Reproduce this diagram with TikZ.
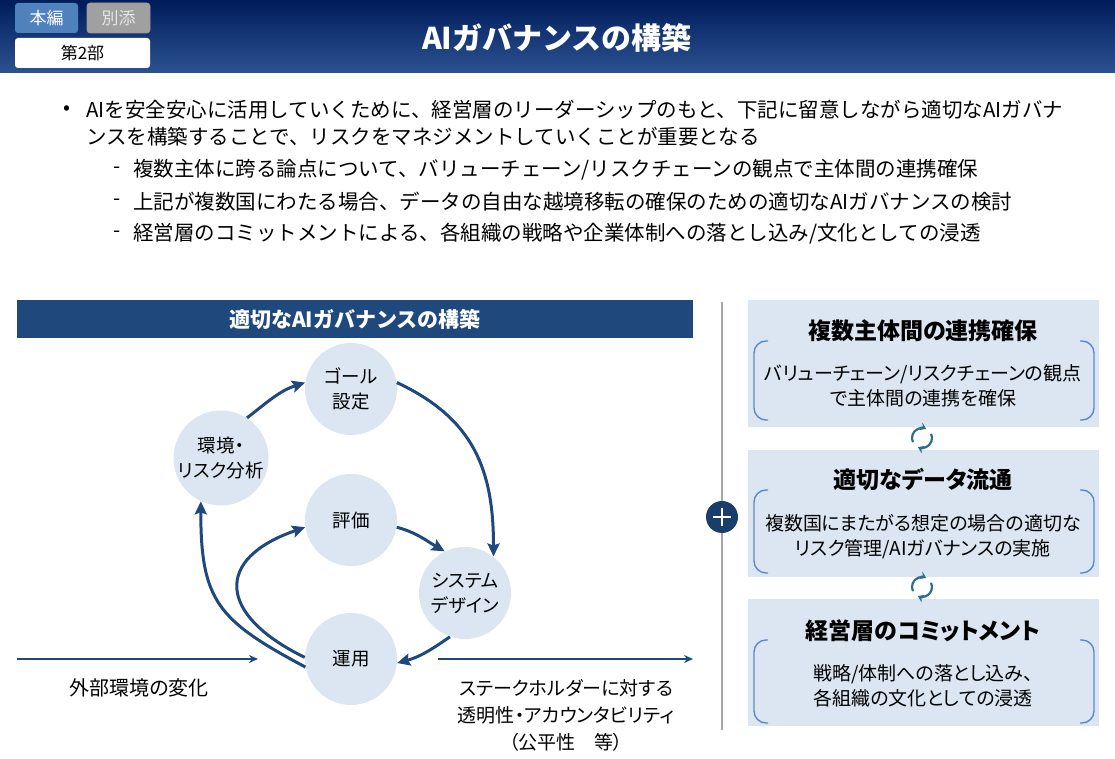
\documentclass[tikz,border=0pt]{standalone}
\usepackage{fontspec}
\setmainfont{Noto Sans CJK JP}
\newfontfamily\kana{Noto Sans CJK JP}[RawFeature=+palt]
\usepackage{tikz}
\usetikzlibrary{arrows,arrows.meta,positioning}

\definecolor{navy}{RGB}{31,73,125}
\definecolor{pale}{RGB}{220,230,242}
\definecolor{brk}{RGB}{91,138,198}
\definecolor{cyc}{RGB}{49,110,140}
\definecolor{hdtop}{RGB}{0,28,90}
\definecolor{hdbot}{RGB}{44,82,146}
\definecolor{tabblue}{RGB}{79,129,189}
\definecolor{tabgray}{RGB}{160,160,160}

\begin{document}
\begin{tikzpicture}[x=1pt,y=1pt,>={Stealth[length=13pt,width=12pt,inset=2pt]},semithick]
\tikzstyle{phase}=[circle,fill=pale,minimum size=92pt,inner sep=0pt,align=center,font=\kana\fontsize{18.5}{25}\selectfont]
\tikzstyle{flow}=[->,draw=navy,line width=3pt]
\tikzstyle{side}=[-{Stealth[length=9pt,width=8pt]},draw=navy,line width=2pt]
\tikzstyle{panel}=[fill=pale,minimum width=351pt,minimum height=127pt]
\tikzstyle{brace}=[draw=brk,line width=1.4pt,rounded corners=12pt]
\tikzstyle{cycarr}=[-{Stealth[length=6pt,width=8pt]},draw=cyc,line width=2.2pt]
\tikzstyle{tab}=[rounded corners=3pt,minimum height=30pt,font=\fontsize{17}{17}\selectfont]
\tikzstyle{ptitle}=[font=\kana\bfseries\fontsize{23}{23}\selectfont]
\tikzstyle{pbody}=[align=center,font=\kana\fontsize{19}{25}\selectfont]
\tikzstyle{bul}=[anchor=west,inner sep=0pt,font=\fontsize{20.5}{20.5}\selectfont]
\useasboundingbox (0,0) rectangle (1115,759);
% header
\shade[top color=hdtop,middle color=hdtop!80!hdbot,bottom color=hdbot] (0,686) rectangle (1115,759);
\node[white,font=\bfseries\fontsize{30}{30}\selectfont] (title) at (557,721) {AIガバナンスの構築};
\node[tab,fill=tabblue,text=white,minimum width=63pt] (main) at (46.5,741) {本編};
\node[tab,fill=tabgray,draw=gray!80,text=white!90!black,minimum width=63pt] (annex) at (118.5,741) {別添};
\node[tab,fill=white,minimum width=135pt] (part) at (82.5,706) {第2部};
% bullets
\node[bul] (b0) at (63,649) {•};
\node[bul] (b1) at (86,649) {AIを安全安心に活用していくために、経営層のリーダーシップのもと、下記に留意しながら適切なAIガバナ};
\node[bul] (b2) at (86,622) {ンスを構築することで、リスクをマネジメントしていくことが重要となる};
\node[bul] (d1) at (113,589) {-};
\node[bul] (s1) at (133,589) {複数主体に跨る論点について、バリューチェーン/リスクチェーンの観点で主体間の連携確保};
\node[bul] (d2) at (113,557) {-};
\node[bul] (s2) at (133,557) {上記が複数国にわたる場合、データの自由な越境移転の確保のための適切なAIガバナンスの検討};
\node[bul] (d3) at (113,525) {-};
\node[bul] (s3) at (133,525) {経営層のコミットメントによる、各組織の戦略や企業体制への落とし込み/文化としての浸透};
% cycle
\node[fill=navy,minimum width=676pt,minimum height=38pt,text=white,font=\bfseries\fontsize{21}{21}\selectfont] (bar) at (355,440) {適切なAIガバナンスの構築};
\node[phase] (G) at (351,370) {ゴール\\設定};
\node[phase] (R) at (221,301) {環境・\\リスク分析};
\node[phase] (H) at (351,239) {評価};
\node[phase] (S) at (465,166) {システム\\デザイン};
\node[phase] (U) at (351,100) {運用};
\path (R.57) edge[flow,out=38,in=198] (G.172)
      (G.8) edge[flow,out=-25,in=90,looseness=1.1] (S.52)
      (H.-9) edge[flow,out=-15,in=150] (S.116)
      (S.251) edge[flow,out=215,in=15] (U.-5)
      (U.178) edge[flow,out=154,in=199,looseness=1.9] (H.189)
      (U.190) edge[flow,out=152,in=-90,looseness=1.3] (R.245);
\coordinate (inL) at (17,100);
\coordinate (inR) at (258,100);
\coordinate (outL) at (438,100);
\coordinate (outR) at (693,100);
\draw[side] (inL) -- (inR);
\draw[side] (outL) -- (outR);
\node[font=\kana\fontsize{20}{20}\selectfont] (ext) at (139,71) {外部環境の変化};
\node[align=center,font=\kana\fontsize{19}{27}\selectfont] (stake) at (566,44) {ステークホルダーに対する\\透明性・アカウンタビリティ\\（公平性　等）};
% right side
\draw[gray!70,line width=1.2pt] (722,457) -- (722,29);
\node[circle,fill=navy!85!black,minimum size=32pt] (plus) at (722,242) {};
\draw[white,line width=2pt] ([xshift=-9pt]plus.center) -- ([xshift=9pt]plus.center);
\draw[white,line width=2pt] ([yshift=-9pt]plus.center) -- ([yshift=9pt]plus.center);
\node[panel] (P1) at (923.5,395.5) {};
\node[panel] (P2) at (923.5,245.5) {};
\node[panel] (P3) at (923.5,96) {};
\node[ptitle] (T1) at (923,428) {複数主体間の連携確保};
\node[ptitle] (T2) at (923,279) {適切なデータ流通};
\node[ptitle] (T3) at (923,128) {経営層のコミットメント};
\node[pbody] (B1) at (923,373.5) {バリューチェーン/リスクチェーンの観点\\で主体間の連携を確保};
\node[pbody] (B2) at (923,222.5) {複数国にまたがる想定の場合の適切な\\リスク管理/AIガバナンスの実施};
\node[pbody] (B3) at (923,73.5) {戦略/体制への落とし込み、\\各組織の文化としての浸透};
\draw[brace] (768,418) -- (754,418) -- (754,339) -- (768,339);
\draw[brace] (1080,418) -- (1094,418) -- (1094,339) -- (1080,339);
\draw[brace] (768,269) -- (754,269) -- (754,186) -- (768,186);
\draw[brace] (1080,269) -- (1094,269) -- (1094,186) -- (1080,186);
\draw[brace] (768,119) -- (754,119) -- (754,36) -- (768,36);
\draw[brace] (1080,119) -- (1094,119) -- (1094,36) -- (1080,36);
\draw[cycarr] (922,321) ++(205:10) arc[start angle=205,end angle=65,radius=10];
\draw[cycarr] (922,321) ++(25:10) arc[start angle=25,end angle=-115,radius=10];
\draw[cycarr] (922,172) ++(205:10) arc[start angle=205,end angle=65,radius=10];
\draw[cycarr] (922,172) ++(25:10) arc[start angle=25,end angle=-115,radius=10];
\end{tikzpicture}
\end{document}
